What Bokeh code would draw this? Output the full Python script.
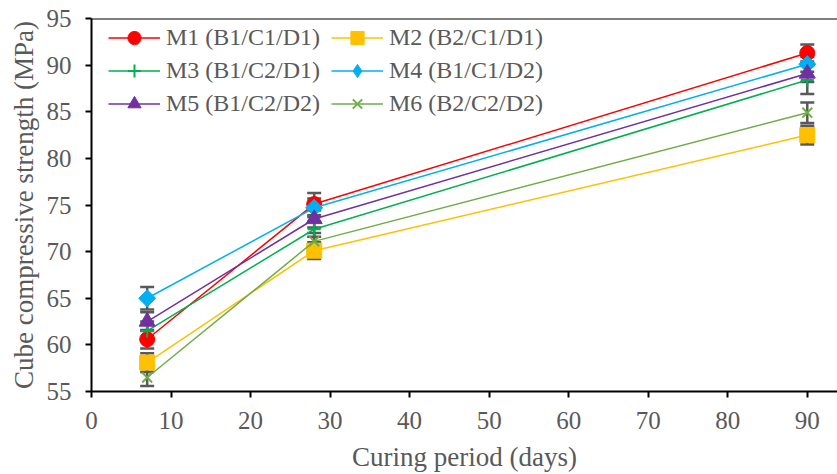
import math
from bokeh.plotting import figure
from bokeh.models import (ColumnDataSource, Whisker, TeeHead, Legend, LegendItem,
                          Span, FixedTicker, Range1d, CDSView, IndexFilter)
from bokeh.embed import file_html
from bokeh.resources import INLINE

days = [7, 28, 90]
names = ["M1 (B1/C1/D1)", "M2 (B2/C1/D1)", "M3 (B1/C2/D1)",
         "M4 (B1/C1/D2)", "M5 (B1/C2/D2)", "M6 (B2/C2/D2)"]
m1 = [60.6, 75.1, 91.3]
m2 = [58.1, 70.1, 82.5]
m3 = [61.5, 72.4, 88.4]
m4 = [65.0, 74.7, 90.1]
m5 = [62.5, 73.5, 89.1]
m6 = [56.5, 71.1, 84.9]
e1 = [1.0, 1.2, 0.9]
e2 = [1.0, 0.9, 1.0]
e3 = [1.0, 0.8, 1.5]
e4 = [1.2, 1.0, 0.8]
e5 = [1.0, 0.9, 0.9]
e6 = [0.9, 0.9, 1.1]
x_ticks = [0, 10, 20, 30, 40, 50, 60, 70, 80, 90]
y_ticks = [55, 60, 65, 70, 75, 80, 85, 90, 95]

series = [m1, m2, m3, m4, m5, m6]
errors = [e1, e2, e3, e4, e5, e6]
colors = ["#FF0000", "#FFC000", "#00B050", "#00B0F0", "#7030A0", "#70AD47"]
markers = ["circle", "square", "cross", "square", "triangle", "x"]
legend_markers = ["circle", "square", "cross", "diamond", "triangle", "x"]
sizes = [15, 15, 13, 12, 16, 14]
angles = [0, 0, 0, math.pi / 4, 0, 0]

FONT = "Liberation Serif"
GREY = "#595959"

p = figure(width=837, height=474, output_backend="svg", toolbar_location=None,
           x_range=Range1d(0, 93.8), y_range=Range1d(55, 95),
           min_border_left=91, min_border_right=0, min_border_top=18,
           min_border_bottom=82)
p.outline_line_color = None
p.xgrid.visible = False
p.ygrid.visible = False
p.background_fill_color = "white"

for ax, ticks in ((p.xaxis[0], x_ticks), (p.yaxis[0], y_ticks)):
    ax.ticker = FixedTicker(ticks=ticks)
    ax.minor_tick_line_color = None
    ax.major_tick_in = 0
    ax.major_tick_out = 6
    ax.major_tick_line_width = 2
    ax.axis_line_width = 2
    ax.axis_line_color = "black"
    ax.major_tick_line_color = "black"
    ax.major_label_text_font = FONT
    ax.major_label_text_font_size = "25px"
    ax.major_label_text_color = GREY
    ax.axis_label_text_font = FONT
    ax.axis_label_text_font_size = "27px"
    ax.axis_label_text_font_style = "normal"
    ax.axis_label_text_color = GREY

p.xaxis.axis_label = "Curing period (days)"
p.yaxis.axis_label = "Cube compressive strength (MPa)"
p.xaxis.major_label_standoff = 14
p.xaxis.axis_label_standoff = 10
p.yaxis.major_label_standoff = 14
p.yaxis.axis_label_standoff = 5

top = Span(location=95, dimension="width", line_color="black", line_width=2)
p.add_layout(top)

rend = {}
for vals, errs, col, mk, lmk, sz, ang, name in zip(series, errors, colors, markers,
                                                    legend_markers, sizes, angles, names):
    src = ColumnDataSource(dict(
        x=days, y=vals,
        upper=[v + e for v, e in zip(vals, errs)],
        lower=[v - e for v, e in zip(vals, errs)],
    ))
    w = Whisker(source=src, base="x", upper="upper", lower="lower",
                line_color=GREY, line_width=2.5,
                upper_head=TeeHead(size=14, line_color=GREY, line_width=2.5),
                lower_head=TeeHead(size=14, line_color=GREY, line_width=2.5))
    p.add_layout(w)
    ln = p.line("x", "y", source=src, line_color=col, line_width=1.5)
    lw = 2 if mk in ("cross", "x") else 1
    leg_glyph = None
    if lmk != mk:
        # legend glyph; in the plot it sits hidden beneath the rotated square
        leg_glyph = p.scatter("x", "y", source=src, marker=lmk, size=9,
                              fill_color=col, line_color=col, line_width=lw,
                              view=CDSView(filter=IndexFilter([0])))
    sc = p.scatter("x", "y", source=src, marker=mk, size=sz, angle=ang,
                   fill_color=col, line_color=col, line_width=lw)
    rend[name] = [ln, leg_glyph if leg_glyph is not None else sc]

# legend fills column by column: order so rows read M1 M2 / M3 M4 / M5 M6
order = [names[0], names[2], names[4], names[1], names[3], names[5]]
items = [LegendItem(label=n, renderers=rend[n], index=0) for n in order]

legend = Legend(items=items, location=(17, 271), ncols=2,
                glyph_width=52, glyph_height=33, label_standoff=6, spacing=0,
                label_width=165,
                label_text_font=FONT, label_text_font_size="24px",
                label_text_color=GREY, border_line_color=None,
                background_fill_alpha=0, margin=0, padding=4)
p.add_layout(legend, "center")

open("out.html", "w").write(file_html(p, INLINE))
